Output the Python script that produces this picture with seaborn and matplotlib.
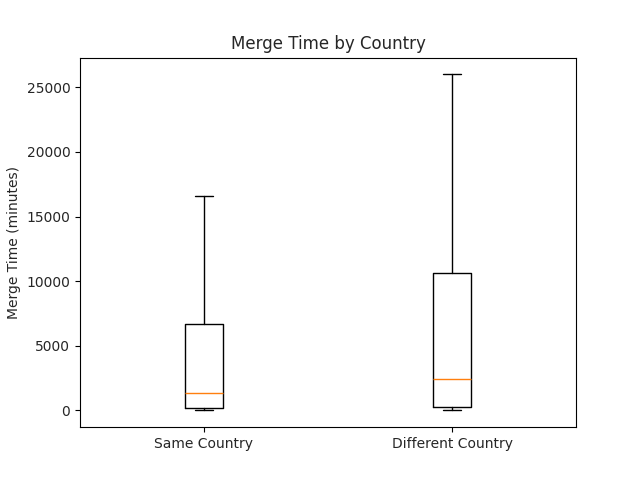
import matplotlib
matplotlib.use("Agg")
import matplotlib.pyplot as plt
import seaborn as sns

# -------- Data --------
labels = ["Same Country", "Different Country"]
whislo = [30, 0]
q1 = [150, 300]
med = [1310, 2400]
q3 = [6700, 10600]
whishi = [16600, 26000]

sns.set_style("ticks")
plt.rcParams["font.family"] = ["DejaVu Sans"]

stats = [
    {"label": l, "whislo": a, "q1": b, "med": c, "q3": d, "whishi": e, "fliers": []}
    for l, a, b, c, d, e in zip(labels, whislo, q1, med, q3, whishi)
]

fig, ax = plt.subplots(figsize=(6.4, 4.8), dpi=100)
ax.bxp(stats, showfliers=False,
       boxprops=dict(color="black"),
       whiskerprops=dict(color="black"),
       capprops=dict(color="black"),
       medianprops=dict(color="#ff7f0e"))
ax.set_title("Merge Time by Country")
ax.set_ylabel("Merge Time (minutes)")
for s in ax.spines.values():
    s.set_visible(True)
    s.set_color("black")
ax.tick_params(direction="out", length=3.5, color="black")
fig.savefig("out.png")
